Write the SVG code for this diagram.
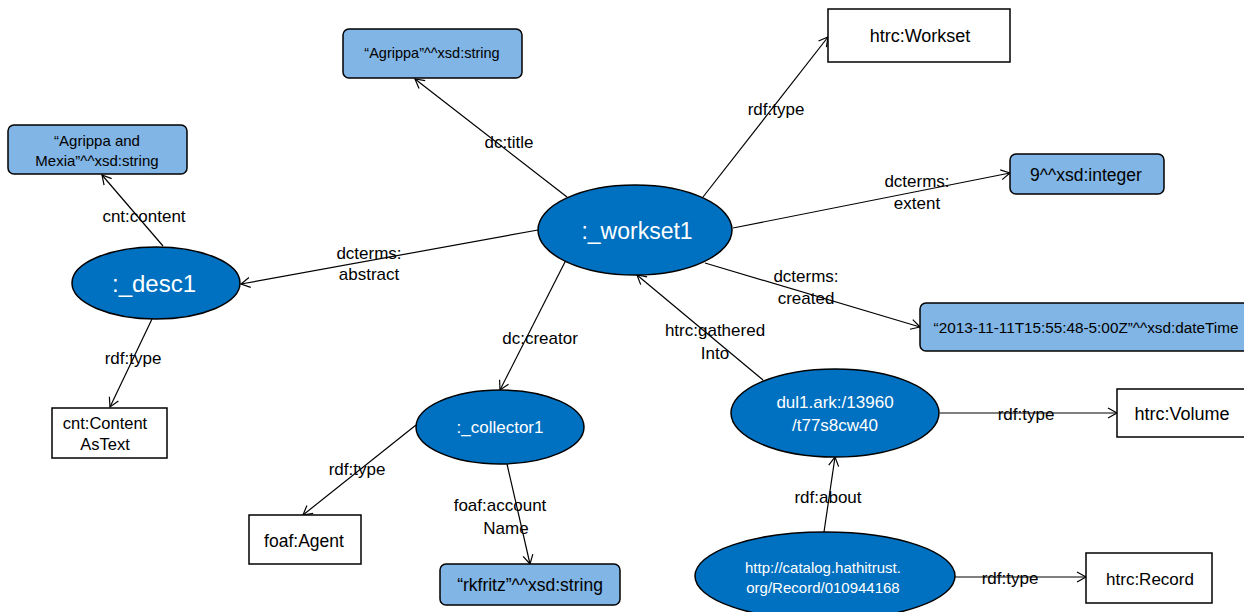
<svg xmlns="http://www.w3.org/2000/svg" width="1244" height="612" viewBox="0 0 1244 612">
<defs>
<marker id="arr" markerWidth="12" markerHeight="12" refX="10" refY="6" orient="auto" markerUnits="userSpaceOnUse">
<path d="M1,1 L10,6 L1,11" fill="none" stroke="#000" stroke-width="1.2"/>
</marker>
<style>
.lit{fill:#80B5E5;stroke:#000;stroke-width:1.5}
.box{fill:#fff;stroke:#000;stroke-width:1.5}
.ell{fill:#0070C0;stroke:#000;stroke-width:1.5}
.t{font-family:"Liberation Sans",Arial,sans-serif;fill:#000;text-anchor:middle}
.w{font-family:"Liberation Sans",Arial,sans-serif;fill:#fff;text-anchor:middle}
.lbl{font-family:"Liberation Sans",Arial,sans-serif;fill:#000;text-anchor:middle;font-size:17px}
.c{stroke:#000;stroke-width:1.2;fill:none;marker-end:url(#arr)}
</style>
</defs>
<rect width="1244" height="612" fill="#fff"/>

<g id="connectors">
<line class="c" x1="567" y1="197" x2="415" y2="79"/>
<line class="c" x1="703" y1="197" x2="828" y2="37"/>
<line class="c" x1="733" y1="228" x2="1010" y2="173"/>
<line class="c" x1="705" y1="263" x2="920" y2="327"/>
<line class="c" x1="538" y1="230" x2="241" y2="284"/>
<line class="c" x1="763" y1="380" x2="637" y2="275"/>
<line class="c" x1="567" y1="258" x2="500" y2="390"/>
<line class="c" x1="416" y1="425" x2="303" y2="515"/>
<line class="c" x1="507" y1="464" x2="530" y2="564"/>
<line class="c" x1="163" y1="246" x2="102" y2="175"/>
<line class="c" x1="152" y1="319" x2="110" y2="407"/>
<line class="c" x1="940" y1="413" x2="1117" y2="413"/>
<line class="c" x1="824" y1="532" x2="835" y2="457"/>
<line class="c" x1="954" y1="577" x2="1086" y2="577"/>
<text class="lbl" x="509" y="148">dc:title</text>
<text class="lbl" x="776" y="115">rdf:type</text>
<text class="lbl" x="917" y="187">dcterms:</text>
<text class="lbl" x="917" y="209">extent</text>
<text class="lbl" x="806" y="282">dcterms:</text>
<text class="lbl" x="806" y="304">created</text>
<text class="lbl" x="369" y="259">dcterms:</text>
<text class="lbl" x="369" y="280">abstract</text>
<text class="lbl" x="715" y="336">htrc:gathered</text>
<text class="lbl" x="715" y="359">Into</text>
<text class="lbl" x="540" y="344">dc:creator</text>
<text class="lbl" x="357" y="475">rdf:type</text>
<text class="lbl" x="500" y="511">foaf:account</text>
<text class="lbl" x="506" y="534">Name</text>
<text class="lbl" x="144" y="222">cnt:content</text>
<text class="lbl" x="133" y="364">rdf:type</text>
<text class="lbl" x="1026" y="420">rdf:type</text>
<text class="lbl" x="828" y="503">rdf:about</text>
<text class="lbl" x="1010" y="584">rdf:type</text>
</g>

<g id="workset1">
<ellipse class="ell" cx="635" cy="230" rx="97" ry="45"/>
<text class="w" x="637" y="239" font-size="23">:_workset1</text>
</g>
<g id="desc1">
<ellipse class="ell" cx="156" cy="283" rx="84" ry="36"/>
<text class="w" x="154" y="292" font-size="24">:_desc1</text>
</g>
<g id="collector1">
<ellipse class="ell" cx="500" cy="427" rx="84" ry="37"/>
<text class="w" x="500" y="433" font-size="17">:_collector1</text>
</g>
<g id="dul1">
<ellipse class="ell" cx="835" cy="413" rx="104" ry="44"/>
<text class="w" x="835" y="408" font-size="17">dul1.ark:/13960</text>
<text class="w" x="835" y="431" font-size="17">/t77s8cw40</text>
</g>
<g id="record-uri">
<ellipse class="ell" cx="825" cy="576" rx="130" ry="44"/>
<text class="w" x="823" y="573" font-size="15">http://catalog.hathitrust.</text>
<text class="w" x="823" y="593" font-size="15">org/Record/010944168</text>
</g>
<g id="agrippa-mexia">
<rect class="lit" x="8" y="125" width="179" height="49" rx="6"/>
<text class="t" x="97" y="146" font-size="15">“Agrippa and</text>
<text class="t" x="97" y="166" font-size="15">Mexia”^^xsd:string</text>
</g>
<g id="agrippa">
<rect class="lit" x="343" y="29" width="179" height="49" rx="6"/>
<text class="t" x="432" y="58" font-size="14.5">“Agrippa”^^xsd:string</text>
</g>
<g id="content-as-text">
<rect class="box" x="52" y="408" width="115" height="50"/>
<text class="t" x="105" y="429" font-size="16.5">cnt:Content</text>
<text class="t" x="105" y="450" font-size="16.5">AsText</text>
</g>
<g id="workset-type">
<rect class="box" x="828" y="9" width="182" height="53"/>
<text class="t" x="920" y="42" font-size="18">htrc:Workset</text>
</g>
<g id="extent">
<rect class="lit" x="1010" y="154" width="154" height="40" rx="6"/>
<text class="t" x="1086" y="181" font-size="17.5">9^^xsd:integer</text>
</g>
<g id="created">
<rect class="lit" x="920" y="303" width="330" height="48" rx="6"/>
<text class="t" x="1086" y="333" font-size="15.3">“2013-11-11T15:55:48-5:00Z”^^xsd:dateTime</text>
</g>
<g id="volume">
<rect class="box" x="1117" y="389" width="130" height="48"/>
<text class="t" x="1182" y="420" font-size="18">htrc:Volume</text>
</g>
<g id="record">
<rect class="box" x="1086" y="553" width="126" height="50"/>
<text class="t" x="1150" y="585" font-size="17">htrc:Record</text>
</g>
<g id="agent">
<rect class="box" x="249" y="515" width="112" height="49"/>
<text class="t" x="304" y="547" font-size="17.5">foaf:Agent</text>
</g>
<g id="rkfritz">
<rect class="lit" x="440" y="564" width="180" height="41" rx="6"/>
<text class="t" x="530" y="591" font-size="17.5">“rkfritz”^^xsd:string</text>
</g>
</svg>
